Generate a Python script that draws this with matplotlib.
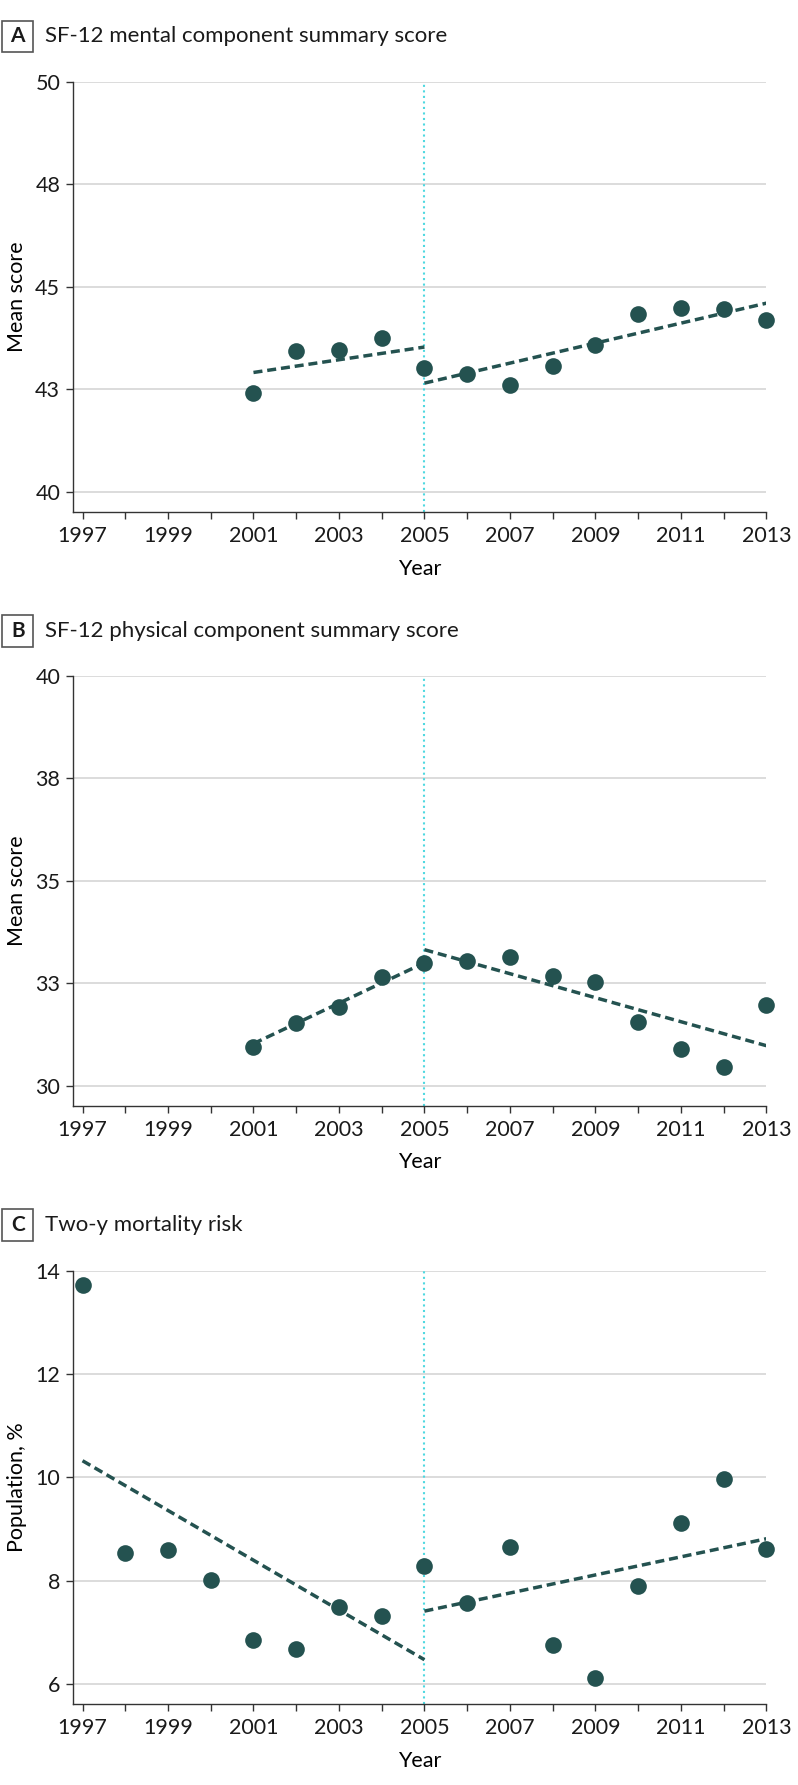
import numpy as np
import matplotlib.pyplot as plt
from matplotlib import rcParams
from matplotlib.patches import Rectangle

rcParams['font.family'] = ['Lato', 'DejaVu Sans']
rcParams['font.size'] = 15.5

years = list(range(1997, 2014))
tick_years = list(range(1997, 2014, 2))

# Panel A: SF-12 mental component summary score
a_years = list(range(2001, 2014))
a_vals = [42.41, 43.44, 43.46, 43.76, 43.01, 42.87, 42.61, 43.06, 43.58, 44.33, 44.49, 44.46, 44.19]
a_trend1 = ([2001, 2005], [42.91, 43.53])
a_trend2 = ([2005, 2013], [42.65, 44.60])
a_yticks = [40, 42.5, 45, 47.5, 50]
a_ylabels = ["40", "43", "45", "48", "50"]

# Panel B: SF-12 physical component summary score
b_years = list(range(2001, 2014))
b_vals = [30.95, 31.53, 31.93, 32.65, 32.99, 33.05, 33.15, 32.67, 32.54, 31.56, 30.91, 30.47, 31.98]
b_trend1 = ([2001, 2005], [31.03, 33.00])
b_trend2 = ([2005, 2013], [33.32, 30.98])
b_yticks = [30, 32.5, 35, 37.5, 40]
b_ylabels = ["30", "33", "35", "38", "40"]

# Panel C: two-year mortality risk
c_years = list(range(1997, 2014))
c_vals = [13.72, 8.53, 8.59, 8.02, 6.85, 6.68, 7.49, 7.32, 8.29, 7.56, 8.66, 6.75, 6.12, 7.90, 9.12, 9.96, 8.62]
c_trend1 = ([1997, 2005], [10.32, 6.47])
c_trend2 = ([2005, 2013], [7.41, 8.81])
c_yticks = [6, 8, 10, 12, 14]
c_ylabels = ["6", "8", "10", "12", "14"]

panels = [
    dict(letter="A", title="SF-12 mental component summary score", ylabel="Mean score",
         x=a_years, y=a_vals, t1=a_trend1, t2=a_trend2, yt=a_yticks, yl=a_ylabels,
         ylim=(39.5, 50), rect=[0.0911, 0.7130, 0.8692, 0.2412], tbox=(20.7, 52.3)),
    dict(letter="B", title="SF-12 physical component summary score", ylabel="Mean score",
         x=b_years, y=b_vals, t1=b_trend1, t2=b_trend2, yt=b_yticks, yl=b_ylabels,
         ylim=(29.51, 40), rect=[0.0911, 0.3804, 0.8692, 0.2411], tbox=(615.0, 646.7)),
    dict(letter="C", title="Two-y mortality risk", ylabel="Population, %",
         x=c_years, y=c_vals, t1=c_trend1, t2=c_trend2, yt=c_yticks, yl=c_ylabels,
         ylim=(5.61, 14), rect=[0.0911, 0.0453, 0.8692, 0.2429], tbox=(1209.0, 1241.0)),
]

W, H = 798, 1785
fig = plt.figure(figsize=(W / 100, H / 100), dpi=100)

dot_col = "#245250"
dark = "#333333"

for p in panels:
    ax = fig.add_axes(p["rect"])
    ax.set_xlim(1996.77, 2013)
    ax.set_ylim(*p["ylim"])
    ax.set_yticks(p["yt"])
    ax.set_yticklabels(p["yl"])
    ax.set_xticks(years)
    ax.set_xticklabels([str(yr) if yr in tick_years else "" for yr in years])
    for v in p["yt"]:
        ax.axhline(v, color="#d9d9d9", lw=1.3, zorder=0)
    ax.axvline(2005, color="#4fd8e0", ls=":", lw=1.5, zorder=1)
    ax.plot(*p["t1"], color=dot_col, lw=2.5, dashes=(2.6, 1.4), zorder=2)
    ax.plot(*p["t2"], color=dot_col, lw=2.5, dashes=(2.6, 1.4), zorder=2)
    ax.plot(p["x"], p["y"], "o", color=dot_col, ms=12, mec="none", zorder=3, clip_on=False)
    for s in ["top", "right"]:
        ax.spines[s].set_visible(False)
    for s in ["left", "bottom"]:
        ax.spines[s].set_color(dark)
        ax.spines[s].set_linewidth(1.0)
    ax.tick_params(direction="out", length=5, width=1, color=dark, labelcolor="#1a1a1a", labelsize=15.5)
    ax.tick_params(axis="x", pad=5)
    ax.tick_params(axis="y", pad=4)
    ax.set_xlabel("Year", fontsize=15.5, labelpad=9)
    ax.set_ylabel(p["ylabel"], fontsize=15.5, labelpad=6)

    # panel letter box and title
    y0, y1 = p["tbox"]
    fig.add_artist(Rectangle((2.3 / W, 1 - y1 / H), 31 / W, (y1 - y0) / H,
                             transform=fig.transFigure, fill=False, ec="#555555", lw=1.2))
    yc = 1 - (y0 + y1) / 2 / H
    fig.text(17.8 / W, yc, p["letter"], ha="center", va="center", fontsize=15, fontweight="bold", color="#1a1a1a")
    fig.text(45 / W, yc, p["title"], ha="left", va="center", fontsize=16, color="#1a1a1a")

plt.savefig("out.png", dpi=100)
